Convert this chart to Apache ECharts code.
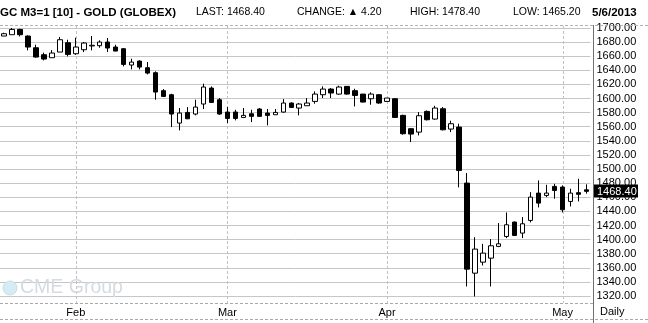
<!DOCTYPE html>
<html><head><meta charset="utf-8">
<script src="https://cdn.jsdelivr.net/npm/echarts@6/dist/echarts.min.js"></script>
<style>html,body{margin:0;padding:0;background:#fff}#c{width:648px;height:323px}</style>
</head><body><div id="c"></div>
<script>
const dates = [
 '2013-01-18','2013-01-22','2013-01-23','2013-01-24','2013-01-25','2013-01-28','2013-01-29','2013-01-30','2013-01-31',
 '2013-02-01','2013-02-04','2013-02-05','2013-02-06','2013-02-07','2013-02-08','2013-02-11','2013-02-12','2013-02-13','2013-02-14','2013-02-15',
 '2013-02-19','2013-02-20','2013-02-21','2013-02-22','2013-02-25','2013-02-26','2013-02-27','2013-02-28',
 '2013-03-01','2013-03-04','2013-03-05','2013-03-06','2013-03-07','2013-03-08','2013-03-11','2013-03-12','2013-03-13','2013-03-14','2013-03-15',
 '2013-03-18','2013-03-19','2013-03-20','2013-03-21','2013-03-22','2013-03-25','2013-03-26','2013-03-27','2013-03-28',
 '2013-04-01','2013-04-02','2013-04-03','2013-04-04','2013-04-05','2013-04-08','2013-04-09','2013-04-10','2013-04-11','2013-04-12',
 '2013-04-15','2013-04-16','2013-04-17','2013-04-18','2013-04-19','2013-04-22','2013-04-23','2013-04-24','2013-04-25','2013-04-26',
 '2013-04-29','2013-04-30',
 '2013-05-01','2013-05-02','2013-05-03','2013-05-06'
];
const opens = [
 1688.6,1690.5,1698.0,1688.6,1672.0,1662.1,1657.9,1665.9,1679.1,
 1663.5,1669.2,1674.5,1674.9,1680.1,1673.0,1670.6,1647.5,1653.1,1643.7,1636.6,
 1611.1,1605.4,1565.2,1580.3,1578.0,1592.2,1614.8,1598.3,
 1580.8,1580.8,1573.2,1578.4,1585.1,1579.4,1577.0,1580.8,1593.6,1586.5,1589.8,
 1595.9,1605.4,1613.4,1606.3,1617.2,1611.1,1606.3,1599.7,1605.4,
 1595.9,1599.7,1576.1,1557.2,1552.4,1581.7,1570.9,1585.5,1556.7,1559.5,
 1480.1,1352.4,1368.0,1373.7,1390.3,1404.4,1424.8,1409.2,1427.1,1465.9,
 1462.6,1475.4,
 1474.4,1454.1,1466.5,1470.5
];
const highs = [
 1693.3,1700.0,1699.0,1689.6,1676.3,1665.0,1668.7,1687.2,1683.4,
 1686.2,1680.1,1688.6,1682.5,1685.8,1676.3,1671.6,1656.5,1654.1,1651.7,1638.5,
 1613.4,1606.8,1586.5,1587.9,1598.3,1621.0,1617.2,1600.7,
 1587.9,1584.1,1586.5,1584.1,1586.5,1585.1,1585.1,1599.2,1594.5,1593.6,1600.7,
 1610.1,1617.2,1614.8,1618.2,1617.5,1613.9,1606.5,1608.7,1606.3,
 1600.7,1600.7,1577.0,1558.1,1580.8,1583.1,1589.8,1587.9,1568.5,1564.3,
 1494.3,1403.5,1394.0,1400.7,1423.4,1438.5,1425.7,1431.9,1467.3,1483.9,
 1477.7,1479.1,
 1476.8,1472.1,1486.2,1478.4
];
const lows = [
 1688.6,1690.5,1688.0,1668.3,1657.9,1654.1,1657.9,1665.9,1659.8,
 1662.0,1665.9,1668.3,1672.0,1665.9,1667.0,1645.6,1641.3,1641.3,1634.2,1598.3,
 1602.1,1559.5,1554.8,1570.8,1576.1,1585.1,1593.6,1577.0,
 1565.2,1569.0,1572.3,1566.6,1574.0,1561.9,1577.0,1580.0,1586.5,1576.1,1589.8,
 1592.6,1600.7,1600.7,1605.4,1605.4,1588.8,1594.5,1591.2,1592.6,
 1595.0,1573.0,1548.7,1538.3,1547.7,1569.0,1570.0,1554.8,1552.4,1474.0,
 1333.5,1319.3,1363.3,1333.5,1389.3,1402.1,1405.0,1402.1,1424.3,1445.6,
 1460.2,1457.9,
 1438.5,1447.0,1454.1,1465.2
];
const closes = [
 1691.9,1698.0,1690.5,1673.0,1658.8,1656.0,1664.5,1683.4,1662.6,
 1673.0,1678.7,1675.5,1680.1,1671.6,1667.3,1648.4,1651.7,1644.6,1636.1,1609.2,
 1603.0,1578.0,1579.4,1571.3,1587.9,1616.3,1594.5,1578.0,
 1571.8,1571.8,1576.1,1574.7,1574.7,1576.1,1580.3,1593.6,1587.4,1592.2,1593.6,
 1606.3,1613.4,1607.8,1616.3,1606.3,1604.4,1595.0,1606.3,1593.6,
 1600.7,1573.2,1550.1,1549.6,1575.6,1569.9,1586.5,1555.7,1564.3,1498.1,
 1358.1,1386.5,1380.8,1391.2,1394.0,1421.0,1405.9,1422.4,1460.2,1451.7,
 1465.9,1469.7,
 1442.3,1465.9,1464.2,1468.4
];
const monthStarts = ['2013-02-01','2013-03-01','2013-04-01','2013-05-01'];
const monthLabels = ['Feb','Mar','Apr','May'];
const yMin = 1320, yMax = 1700, yStep = 20;
const headTitle = 'GC M3=1 [10] - GOLD (GLOBEX)';
const headLast = 1468.40, headChange = 4.20, headHigh = 1478.40, headLow = 1465.20;
const headDate = '5/6/2013';
const periodLabel = 'Daily';

const candleData = dates.map((d, i) => [opens[i], closes[i], lows[i], highs[i]]);

const chart = echarts.init(document.getElementById('c'), null, {renderer: 'canvas'});
const FONT = '"Liberation Sans", Arial, sans-serif';
chart.setOption({
  animation: false,
  backgroundColor: '#ffffff',
  grid: {left: -1.5, right: 57.5, top: 28, bottom: 27, containLabel: false},
  xAxis: {
    type: 'category', data: dates, boundaryGap: true,
    axisLine: {show: false}, axisTick: {show: false}, splitLine: {show: false},
    axisLabel: {
      interval: (idx, val) => monthStarts.indexOf(val) >= 0,
      formatter: val => monthLabels[monthStarts.indexOf(val)] || '',
      margin: 11, fontSize: 11, color: '#000', fontFamily: FONT
    }
  },
  yAxis: {
    type: 'value', position: 'right', min: yMin, max: yMax, interval: yStep,
    axisLine: {show: false}, axisTick: {show: false},
    axisLabel: {formatter: v => v.toFixed(2), margin: 6, fontSize: 11, color: '#000', fontFamily: FONT, padding: [3, 0, 0, 0]},
    splitLine: {show: true, lineStyle: {color: '#c6c6c6', width: 1}}
  },
  series: [{
    type: 'candlestick', data: candleData, barWidth: 5, clip: false, silent: true,
    itemStyle: {color: '#ffffff', color0: '#000000', borderColor: '#000000', borderColor0: '#000000', borderWidth: 1}
  }]
});

const g = [];
const gridRight = 593.5;
g.push({type: 'line', shape: {x1: 0, y1: 25.5, x2: 648, y2: 25.5}, style: {stroke: '#b8b0b8', lineWidth: 1, lineDash: [3, 2]}, z: 1});
g.push({type: 'line', shape: {x1: 0, y1: 303.5, x2: gridRight, y2: 303.5}, style: {stroke: '#a8a8a8', lineWidth: 1, lineDash: [3, 2]}, z: 1});
g.push({type: 'line', shape: {x1: 0, y1: 319.5, x2: 648, y2: 319.5}, style: {stroke: '#a8a8a8', lineWidth: 1, lineDash: [3, 2]}, z: 1});
g.push({type: 'line', shape: {x1: gridRight, y1: 25, x2: gridRight, y2: 323}, style: {stroke: '#707070', lineWidth: 1}, z: 1});
monthStarts.forEach(d => {
  const x = Math.round(chart.convertToPixel({xAxisIndex: 0}, d)) + 0.5;
  g.push({type: 'line', shape: {x1: x, y1: 26, x2: x, y2: 303}, style: {stroke: '#c8bcc8', lineWidth: 1, lineDash: [3, 2]}, z: 0});
});
const yl = chart.convertToPixel({yAxisIndex: 0}, closes[closes.length - 1]);
g.push({type: 'rect', shape: {x: 594, y: Math.round(yl) - 6.5, width: 44, height: 13}, style: {fill: '#000'}, z: 10});
g.push({type: 'text', x: 597, y: yl + 0.5, style: {text: closes[closes.length - 1].toFixed(2), fill: '#fff', font: '11px ' + FONT, textVerticalAlign: 'middle'}, z: 11});
g.push({type: 'text', x: 600, y: 312, style: {text: periodLabel, fill: '#000', font: '11px ' + FONT, textVerticalAlign: 'middle'}, z: 11});
const hy = 12.5;
const TFONT = 'bold 11.5px "Liberation Sans Narrow", "Liberation Sans", Arial, sans-serif';
g.push({type: 'text', x: 0, y: hy, style: {text: headTitle, fill: '#000', font: TFONT, textVerticalAlign: 'middle'}});
g.push({type: 'text', x: 196, y: hy, style: {text: 'LAST: ' + headLast.toFixed(2), fill: '#000', font: '10.5px ' + FONT, textVerticalAlign: 'middle'}});
g.push({type: 'text', x: 297, y: hy, style: {text: 'CHANGE: \u25B2 ' + headChange.toFixed(2), fill: '#000', font: '10.5px ' + FONT, textVerticalAlign: 'middle'}});
g.push({type: 'text', x: 410, y: hy, style: {text: 'HIGH: ' + headHigh.toFixed(2), fill: '#000', font: '10.5px ' + FONT, textVerticalAlign: 'middle'}});
g.push({type: 'text', x: 513, y: hy, style: {text: 'LOW: ' + headLow.toFixed(2), fill: '#000', font: '10.5px ' + FONT, textVerticalAlign: 'middle'}});
g.push({type: 'text', x: 592, y: hy, style: {text: headDate, fill: '#000', font: TFONT, textVerticalAlign: 'middle'}});
g.push({type: 'circle', shape: {cx: 10, cy: 288, r: 7}, style: {fill: '#d6ecf2', stroke: '#bfe0ea', lineWidth: 1}, z: 0});
g.push({type: 'text', x: 20, y: 288, style: {text: 'CME Group', fill: '#d5dbe0', font: '19.5px ' + FONT, textVerticalAlign: 'middle'}, z: 0});
chart.setOption({graphic: g});
</script>
</body></html>
